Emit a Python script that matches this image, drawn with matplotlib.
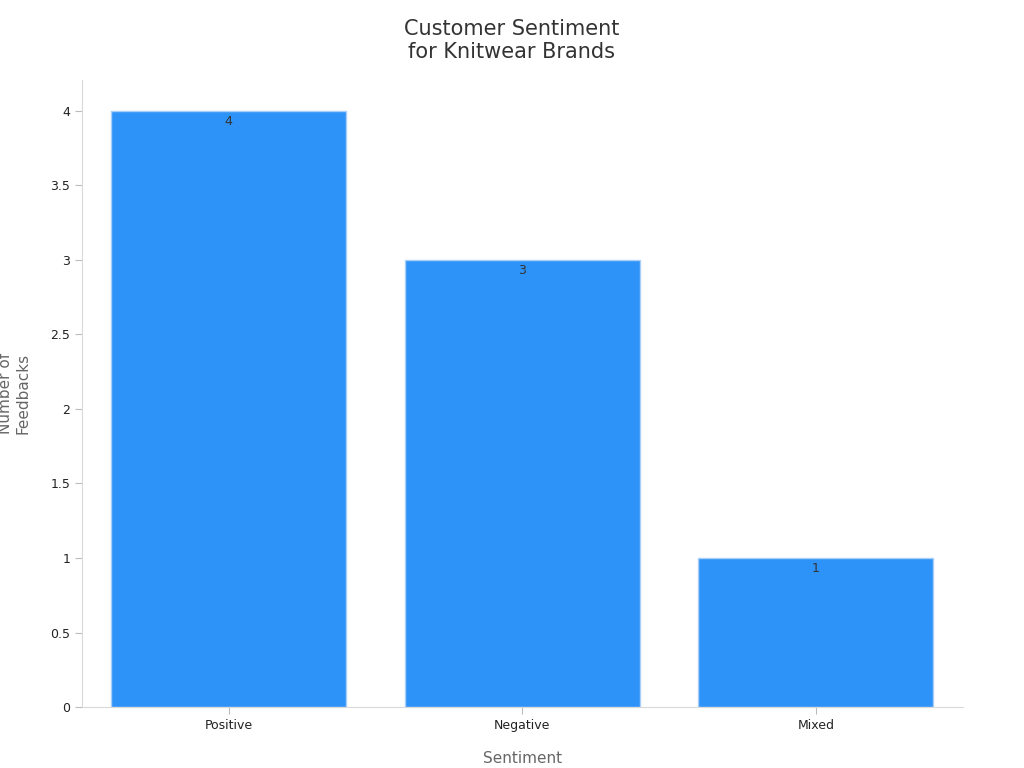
import matplotlib
matplotlib.use("Agg")
import matplotlib.pyplot as plt

categories = ["Positive", "Negative", "Mixed"]
values = [4, 3, 1]
yticks = [0, 0.5, 1, 1.5, 2, 2.5, 3, 3.5, 4]
ytick_labels = ["0", "0.5", "1", "1.5", "2", "2.5", "3", "3.5", "4"]

plt.rcParams['font.family'] = ['DejaVu Sans']
fig = plt.figure(figsize=(10.24, 7.68), dpi=100)
ax = fig.add_axes([0.080, 0.0794, 0.860, 0.817])
x = list(range(len(categories)))
bars = ax.bar(x, values, width=0.8, color="#2E93F8", edgecolor="#A9CFF7", linewidth=1)
for xi, v in zip(x, values):
    ax.text(xi, v - 0.03, str(v), ha="center", va="top", fontsize=9, color="#333333")
ax.set_xlim(-0.5, 2.5)
ax.set_ylim(0, 4.21)
ax.set_xticks(x)
ax.set_xticklabels(categories, fontsize=9, color="#222222")
ax.set_yticks(yticks)
ax.set_yticklabels(ytick_labels, fontsize=9, color="#222222")
for s in ["top", "right"]:
    ax.spines[s].set_visible(False)
for s in ["left", "bottom"]:
    ax.spines[s].set_color("#D9D9D9")
ax.tick_params(axis="both", colors="#BBBBBB", labelcolor="#222222", length=5)
ax.set_xlabel("Sentiment", fontsize=11, color="#666666", labelpad=14)
ax.set_ylabel("Number of\nFeedbacks", fontsize=11, color="#666666", labelpad=14)
fig.suptitle("Customer Sentiment\nfor Knitwear Brands", fontsize=15, color="#333333", y=0.975)
fig.savefig("out.png", dpi=100)
